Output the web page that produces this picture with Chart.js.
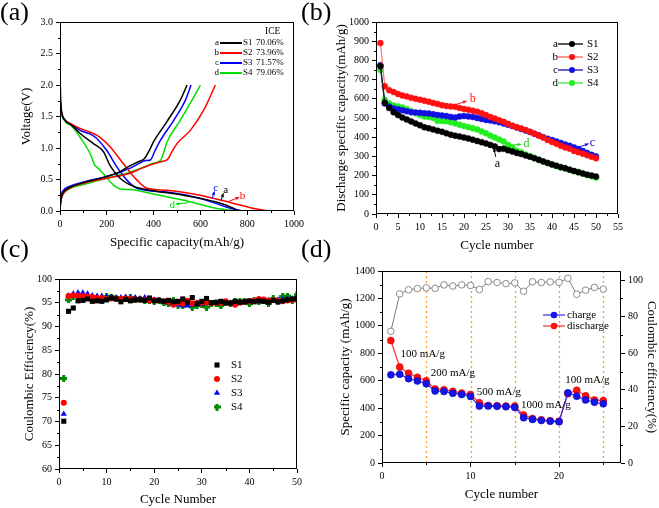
<!DOCTYPE html>
<html>
<head>
<meta charset="utf-8">
<script src="https://cdn.jsdelivr.net/npm/chart.js@4.4.0/dist/chart.umd.min.js"></script>
<style>
body { margin: 0; background: #fff; }
#fig { position: relative; width: 659px; height: 508px; overflow: hidden; }
canvas { position: absolute; }
.lab { position: absolute; font: 26px/26px "Liberation Serif", serif; color: #000; }
</style>
</head>
<body>
<div id="fig">
  <canvas id="ca" width="330" height="254" style="left:0;top:0"></canvas>
  <canvas id="cb" width="330" height="254" style="left:329px;top:0"></canvas>
  <canvas id="cc" width="330" height="254" style="left:0;top:254px"></canvas>
  <canvas id="cd" width="330" height="254" style="left:329px;top:254px"></canvas>
  <div class="lab" style="left:0;top:-1px">(a)</div>
  <div class="lab" style="left:301px;top:-1px">(b)</div>
  <div class="lab" style="left:0;top:236px">(c)</div>
  <div class="lab" style="left:301px;top:236px">(d)</div>
</div>
<script>
// (a) first charge/discharge profiles, [capacity mAh/g, voltage V]
var s1Discharge = [[0,2.2],[3,1.75],[8,1.55],[20,1.45],[50,1.36],[86,1.23],[143,1.07],[186,0.94],[214,0.72],[257,0.52],[314,0.39],[386,0.33],[529,0.25],[671,0.14],[743,0.04],[760,0]];
var s1Charge = [[0,0.05],[5,0.2],[15,0.3],[40,0.37],[100,0.45],[200,0.55],[260,0.63],[300,0.72],[340,0.79],[360,0.83],[380,0.95],[400,1.1],[457,1.42],[514,1.76],[543,2.0]];
var s2Discharge = [[0,1.8],[5,1.6],[20,1.45],[50,1.38],[86,1.31],[130,1.25],[171,1.17],[214,1.02],[271,0.75],[329,0.49],[371,0.36],[457,0.33],[600,0.25],[743,0.12],[829,0.04],[893,0]];
var s2Charge = [[0,0.05],[5,0.18],[15,0.28],[40,0.36],[100,0.44],[200,0.52],[300,0.6],[350,0.68],[400,0.75],[440,0.79],[460,0.82],[480,0.95],[500,1.07],[557,1.28],[614,1.6],[664,2.0]];
var s3Discharge = [[0,1.8],[5,1.6],[20,1.45],[50,1.37],[86,1.28],[130,1.22],[157,1.15],[200,0.96],[243,0.7],[286,0.49],[329,0.36],[457,0.3],[600,0.2],[714,0.06],[779,0]];
var s3Charge = [[0,0.08],[5,0.25],[15,0.33],[40,0.39],[100,0.46],[200,0.55],[260,0.62],[300,0.68],[340,0.76],[365,0.8],[386,0.81],[405,0.95],[429,1.12],[486,1.44],[536,1.76],[560,2.0]];
var s4Discharge = [[0,1.85],[5,1.6],[20,1.43],[50,1.35],[86,1.17],[129,0.91],[150,0.72],[157,0.7],[186,0.59],[229,0.41],[257,0.35],[300,0.34],[386,0.28],[529,0.17],[671,0.04],[757,0]];
var s4Charge = [[0,0.06],[5,0.2],[15,0.28],[40,0.35],[100,0.42],[200,0.52],[300,0.62],[360,0.7],[400,0.76],[429,0.8],[445,0.95],[457,1.09],[514,1.44],[564,1.76],[600,2.0]];
var sampleNames = ['S1', 'S2', 'S3', 'S4'];
var curveLetters = ['a', 'b', 'c', 'd'];
var iceValues = ['70.06%', '73.96%', '71.57%', '79.06%'];

// (b) discharge capacity vs cycle
var cycles50 = [1,2,3,4,5,6,7,8,9,10,11,12,13,14,15,16,17,18,19,20,21,22,23,24,25,26,27,28,29,30,31,32,33,34,35,36,37,38,39,40,41,42,43,44,45,46,47,48,49,50];
var s1Capacity = [770,580,552,530,515,502,492,482,472,462,452,446,440,434,428,420,413,408,403,398,393,387,380,374,367,360,352,338,340,332,325,318,312,305,298,290,282,274,266,258,251,244,238,231,224,218,211,205,200,195];
var s2Capacity = [890,665,645,635,625,617,612,605,600,595,590,585,578,573,567,562,560,558,552,547,543,538,532,525,515,505,497,488,480,470,460,452,445,437,428,418,408,398,385,375,366,355,347,340,328,322,314,306,298,290];
var s3Capacity = [775,575,560,550,545,540,535,530,528,527,525,523,520,515,513,510,505,503,508,510,508,505,500,495,490,487,483,478,472,465,458,450,443,435,427,418,410,400,392,385,378,370,362,355,347,338,328,318,308,300];
var s4Capacity = [750,595,575,565,560,555,545,535,525,515,508,505,500,485,485,483,478,472,465,458,452,446,440,430,420,408,398,388,378,360,345,330,320,310,300,292,283,274,266,258,250,243,237,230,223,217,210,203,197,190];

// (c) coulombic efficiency vs cycle
var s1CE = [70.06,93.2,93.9,95.4,95.5,95.8,95.3,95.4,95.3,95.6,96.0,95.8,95.2,95.7,95.4,95.6,95.7,95.5,96.0,95.4,95.5,95.3,95.5,95.2,95.3,95.8,95.1,96.1,94.8,95.3,95.9,95.0,95.1,95.3,95.0,94.9,95.3,95.1,95.2,95.4,95.2,95.4,95.3,95.1,95.5,95.2,95.4,95.6,95.8,95.9];
var s2CE = [73.96,96.4,96.6,96.5,96.4,96.3,96.2,96.0,96.0,95.8,95.9,95.9,95.8,95.9,95.8,95.7,95.7,95.6,95.5,95.6,95.5,95.3,95.2,94.6,95.0,94.8,95.4,94.9,95.0,95.0,95.1,94.9,95.0,95.0,95.3,94.9,94.6,95.0,95.2,95.3,95.4,95.8,95.7,95.5,95.6,95.4,95.3,95.5,95.6,95.9];
var s3CE = [71.57,96.5,96.9,97.1,97.1,96.9,96.5,96.4,96.4,96.2,96.2,96.1,96.1,96.2,96.0,96.1,95.9,96.1,95.8,95.6,95.5,95.2,95.0,94.8,94.6,94.4,94.4,94.6,94.8,94.7,94.9,94.9,95.0,95.0,94.9,95.0,95.0,95.0,95.1,95.2,95.3,95.3,95.4,95.5,95.4,95.6,95.7,95.8,95.9,96.0];
var s4CE = [79.06,95.6,96.3,96.5,96.4,96.3,96.0,95.8,95.6,96.3,96.2,95.8,95.6,96.0,96.1,95.6,95.7,95.4,95.4,95.3,95.4,95.0,94.8,95.5,94.5,94.5,95.2,94.1,94.4,94.6,94.1,94.9,94.9,94.4,95.1,94.9,95.3,95.3,95.3,94.8,95.4,95.3,95.4,94.9,95.8,95.3,96.3,96.4,95.4,96.7];

// (d) rate performance
var rateCycles = [1,2,3,4,5,6,7,8,9,10,11,12,13,14,15,16,17,18,19,20,21,22,23,24,25];
var chargeCap = [643,648,615,598,578,525,522,508,500,485,415,415,413,410,405,330,318,310,305,300,512,487,460,443,432];
var dischargeCap = [893,700,655,625,600,540,535,523,510,500,440,420,418,415,415,350,325,315,308,305,505,530,490,460,455];
var rateCE = [72,92.5,94.7,95.4,95.8,95.5,97.4,96.8,97.4,97.1,94.9,99.2,98.7,98.1,98.5,93.9,99.1,98.7,99.0,98.8,101,92.3,94.5,96.0,95.1];
var rateBoundaries = [5, 10, 15, 20, 25];
var rateLabels = ['100 mA/g', '200 mA/g', '500 mA/g', '1000 mA/g', '100 mA/g'];

var SERIF = '"Liberation Serif", "Times New Roman", serif';
Chart.defaults.font.family = SERIF;
Chart.defaults.color = '#000';
Chart.defaults.animation = false;

var colA = ['#000000', '#ff0000', '#0000ff', '#00e000'];
var colB = ['#000000', '#ff1010', '#1010e0', '#22ee22'];
var lineB = ['#202020', '#ff7070', '#3030c0', '#55f055'];

function xy(xs, ys) {
  return xs.map(function (x, i) { return { x: x, y: ys[i] }; });
}
function pairs(p) {
  return p.map(function (d) { return { x: d[0], y: d[1] }; });
}

function makeAxis(o) {
  return {
    type: 'linear', position: o.position, min: o.min, max: o.max,
    afterFit: function (s) { if (s.isHorizontal()) s.height = o.size; else s.width = o.size; },
    grid: { drawOnChartArea: false, drawTicks: true, tickLength: 4, color: '#000', lineWidth: 1 },
    border: { display: false },
    ticks: {
      stepSize: o.step, padding: 3, maxRotation: 0, autoSkip: false, includeBounds: false,
      font: { size: 10 }, color: '#000',
      callback: function (v) { return o.fmt ? o.fmt(v) : String(v); }
    },
    title: { display: true, text: o.title, font: { size: 13 }, color: '#000', padding: o.titlePad }
  };
}

function framePlugin(minor) {
  return {
    id: 'frame',
    afterDraw: function (chart) {
      var ctx = chart.ctx, a = chart.chartArea;
      ctx.save();
      ctx.strokeStyle = '#000';
      ctx.lineWidth = 1;
      ctx.strokeRect(Math.round(a.left) + 0.5, Math.round(a.top) + 0.5,
        Math.round(a.right - a.left) - 1, Math.round(a.bottom - a.top) - 1);
      Object.keys(minor).forEach(function (id) {
        var s = chart.scales[id];
        var majors = s.ticks.map(function (t) { return t.value; });
        var step = majors[1] - majors[0], n = minor[id];
        ctx.beginPath();
        for (var k = -n; k <= (majors.length) * n; k++) {
          if (k % n === 0) continue;
          var v = majors[0] + k * step / n;
          if (v < s.min - 1e-9 || v > s.max + 1e-9) continue;
          var p = Math.round(s.getPixelForValue(v)) + 0.5;
          if (s.isHorizontal()) { ctx.moveTo(p, s.top); ctx.lineTo(p, s.top + 2); }
          else if (s.position === 'left') { ctx.moveTo(s.right, p); ctx.lineTo(s.right - 2, p); }
          else { ctx.moveTo(s.left, p); ctx.lineTo(s.left + 2, p); }
        }
        ctx.stroke();
      });
      ctx.restore();
    }
  };
}

function arrow(ctx, x1, y1, x2, y2) {
  var ang = Math.atan2(y2 - y1, x2 - x1), h = 4;
  ctx.beginPath();
  ctx.moveTo(x1, y1); ctx.lineTo(x2, y2);
  ctx.stroke();
  ctx.beginPath();
  ctx.moveTo(x2, y2);
  ctx.lineTo(x2 - h * Math.cos(ang - 0.45), y2 - h * Math.sin(ang - 0.45));
  ctx.lineTo(x2 - h * Math.cos(ang + 0.45), y2 - h * Math.sin(ang + 0.45));
  ctx.closePath();
  ctx.fill();
}

// text notes and arrows placed in data coordinates
function notesPlugin(items, yId) {
  return {
    id: 'notes',
    afterDatasetsDraw: function (chart) {
      var ctx = chart.ctx, sx = chart.scales.x, sy = chart.scales[yId || 'y'];
      ctx.save();
      items.forEach(function (n) {
        ctx.fillStyle = n.color; ctx.strokeStyle = n.color; ctx.lineWidth = 1;
        ctx.font = (n.size || 11) + 'px ' + SERIF;
        ctx.textAlign = n.align || 'center'; ctx.textBaseline = 'middle';
        if (n.text) ctx.fillText(n.text, sx.getPixelForValue(n.x), sy.getPixelForValue(n.y));
        if (n.arrow) arrow(ctx, sx.getPixelForValue(n.arrow[0]), sy.getPixelForValue(n.arrow[1]),
          sx.getPixelForValue(n.arrow[2]), sy.getPixelForValue(n.arrow[3]));
      });
      ctx.restore();
    }
  };
}

// ---------------- (a)
var profiles = [s1Discharge, s2Discharge, s3Discharge, s4Discharge];
var charges = [s1Charge, s2Charge, s3Charge, s4Charge];
var dsA = [];
profiles.forEach(function (p, i) {
  [p, charges[i]].forEach(function (curve) {
    dsA.push({ data: pairs(curve), showLine: true, borderColor: colA[i], borderWidth: 1.5,
      pointRadius: 0, cubicInterpolationMode: 'monotone' });
  });
});
var legendA = {
  id: 'legendA',
  afterDraw: function (chart) {
    var ctx = chart.ctx;
    ctx.save();
    ctx.textBaseline = 'middle';
    ctx.fillStyle = '#000';
    ctx.font = '9.5px ' + SERIF;
    ctx.fillText('ICE', 265, 31);
    ctx.font = '9px ' + SERIF;
    sampleNames.forEach(function (name, i) {
      var y = 43 + i * 10;
      ctx.fillStyle = '#000';
      ctx.textAlign = 'right'; ctx.fillText(curveLetters[i], 219, y);
      ctx.strokeStyle = colA[i]; ctx.lineWidth = 2;
      ctx.beginPath(); ctx.moveTo(220, y); ctx.lineTo(242, y); ctx.stroke();
      ctx.textAlign = 'left';
      ctx.fillText(name, 243, y);
      ctx.fillText(iceValues[i], 256, y);
    });
    ctx.restore();
  }
};
new Chart(document.getElementById('ca'), {
  type: 'scatter',
  data: { datasets: dsA },
  options: {
    responsive: false,
    layout: { padding: { top: 22, right: 36, left: 0, bottom: 0 } },
    plugins: { legend: { display: false }, tooltip: { enabled: false } },
    scales: {
      x: makeAxis({ position: 'bottom', min: 0, max: 1000, step: 200, size: 43, title: 'Specific capacity(mAh/g)', titlePad: { top: 0, bottom: 4 } }),
      y: makeAxis({ position: 'left', min: 0, max: 3, step: 0.5, size: 60, title: 'Voltage(V)', titlePad: { top: 19, bottom: 0 }, fmt: function (v) { return v.toFixed(1); } })
    }
  },
  plugins: [framePlugin({ x: 2, y: 2 }), legendA, notesPlugin([
    { text: 'c', x: 665, y: 0.37, color: colA[2], arrow: [650, 0.2, 660, 0.31] },
    { text: 'a', x: 708, y: 0.33, color: colA[0], arrow: [688, 0.17, 698, 0.28] },
    { text: 'b', x: 780, y: 0.23, color: colA[1], arrow: [720, 0.15, 766, 0.22] },
    { text: 'd', x: 480, y: 0.1, color: colA[3], arrow: [548, 0.13, 495, 0.11] }
  ])]
});

// ---------------- (b)
var capSeries = [s1Capacity, s2Capacity, s3Capacity, s4Capacity];
var dsB = capSeries.map(function (vals, i) {
  return { data: xy(cycles50, vals), showLine: true, borderColor: lineB[i], borderWidth: 1.2,
    pointRadius: 3, pointBackgroundColor: colB[i], pointBorderColor: colB[i], pointBorderWidth: 0.5 };
});
var legendB = {
  id: 'legendB',
  afterDraw: function (chart) {
    var ctx = chart.ctx;
    ctx.save();
    ctx.textBaseline = 'middle';
    ctx.font = '11px ' + SERIF;
    var rows = [44, 57, 70, 83];
    sampleNames.forEach(function (name, i) {
      var y = rows[i];
      ctx.fillStyle = '#000';
      ctx.textAlign = 'right'; ctx.fillText(curveLetters[i], 229, y);
      ctx.strokeStyle = lineB[i]; ctx.lineWidth = 1.5;
      ctx.beginPath(); ctx.moveTo(229, y); ctx.lineTo(254, y); ctx.stroke();
      ctx.fillStyle = colB[i];
      ctx.beginPath(); ctx.arc(243, y, 3, 0, Math.PI * 2); ctx.fill();
      ctx.fillStyle = '#000'; ctx.textAlign = 'left';
      ctx.fillText(name, 258, y);
    });
    ctx.restore();
  }
};
new Chart(document.getElementById('cb'), {
  type: 'scatter',
  data: { datasets: dsB },
  options: {
    responsive: false,
    layout: { padding: { top: 22, right: 41, left: 0, bottom: 0 } },
    plugins: { legend: { display: false }, tooltip: { enabled: false } },
    scales: {
      x: makeAxis({ position: 'bottom', min: 0, max: 55, step: 5, size: 40, title: 'Cycle number', titlePad: { top: 0, bottom: 1 } }),
      y: makeAxis({ position: 'left', min: 0, max: 1000, step: 100, size: 47, title: 'Discharge specific capacity(mAh/g)', titlePad: { top: 5, bottom: 0 } })
    }
  },
  plugins: [framePlugin({ x: 2, y: 2 }), legendB, notesPlugin([
    { text: 'b', x: 22, y: 598, color: colB[1], size: 12, arrow: [17.5, 565, 20.6, 588] },
    { text: 'd', x: 34.2, y: 365, color: '#22cc22', size: 12, arrow: [30.5, 358, 33, 363] },
    { text: 'c', x: 49.2, y: 372, color: colB[2], size: 12, arrow: [46, 347, 48.3, 366] },
    { text: 'a', x: 27.6, y: 263, color: '#000', size: 12, arrow: [27.2, 298, 26.8, 343] }
  ])]
});

// ---------------- (c)
var plusMarker = document.createElement('canvas');
plusMarker.width = 7; plusMarker.height = 7;
(function () {
  var g = plusMarker.getContext('2d');
  g.fillStyle = '#008a00';
  g.fillRect(2, 0, 3, 7);
  g.fillRect(0, 2, 7, 3);
  g.beginPath(); g.arc(3.5, 3.5, 2.2, 0, Math.PI * 2); g.fill();
})();
var ceSeries = [s1CE, s2CE, s3CE, s4CE];
var ceStyles = ['rect', 'circle', 'triangle', plusMarker];
var ceColors = ['#000000', '#ff0000', '#0000ff', '#008a00'];
var ceRadius = [3.6, 3, 3.6, 3.5];
var dsC = ceSeries.map(function (vals, i) {
  return { data: xy(cycles50, vals), showLine: false, pointStyle: ceStyles[i], pointRadius: ceRadius[i],
    pointBackgroundColor: ceColors[i], pointBorderColor: ceColors[i], pointBorderWidth: 0 };
});
var legendC = {
  id: 'legendC',
  afterDraw: function (chart) {
    var ctx = chart.ctx;
    ctx.save();
    ctx.textBaseline = 'middle';
    ctx.font = '11px ' + SERIF;
    var rows = [111, 125, 139, 153];
    sampleNames.forEach(function (name, i) {
      ctx.fillStyle = ceColors[i]; ctx.strokeStyle = ceColors[i];
      Chart.helpers.drawPoint(ctx, { pointStyle: ceStyles[i], radius: ceRadius[i], rotation: 0, borderWidth: 0 }, 217, rows[i]);
      ctx.fillStyle = '#000'; ctx.textAlign = 'left';
      ctx.fillText(name, 231, rows[i]);
    });
    ctx.restore();
  }
};
new Chart(document.getElementById('cc'), {
  type: 'scatter',
  data: { datasets: dsC },
  options: {
    responsive: false,
    layout: { padding: { top: 25, right: 33, left: 0, bottom: 0 } },
    plugins: { legend: { display: false }, tooltip: { enabled: false } },
    scales: {
      x: makeAxis({ position: 'bottom', min: 0, max: 50, step: 10, size: 39, title: 'Cycle Number', titlePad: { top: 0, bottom: 1 } }),
      y: makeAxis({ position: 'left', min: 60, max: 100, step: 5, size: 59, title: 'Coulombic Efficiency(%)', titlePad: { top: 22, bottom: 0 } })
    }
  },
  plugins: [framePlugin({ x: 2, y: 2 }), legendC]
});

// ---------------- (d)
var dsD = [
  { data: xy(rateCycles, chargeCap), showLine: true, borderColor: '#2a2aff', borderWidth: 1.2, pointRadius: 3.5,
    pointBackgroundColor: '#1515e8', pointBorderColor: '#0000b0', pointBorderWidth: 0.5, yAxisID: 'y' },
  { data: xy(rateCycles, dischargeCap), showLine: true, borderColor: '#ff3030', borderWidth: 1.2, pointRadius: 3.5,
    pointBackgroundColor: '#ff1010', pointBorderColor: '#c00000', pointBorderWidth: 0.5, yAxisID: 'y' },
  { data: xy(rateCycles, rateCE), showLine: true, borderColor: '#7a7a7a', borderWidth: 1, pointRadius: 3.3,
    pointBackgroundColor: '#ffffff', pointBorderColor: '#8a8a8a', pointBorderWidth: 1, yAxisID: 'y1' }
];
var rateLines = {
  id: 'rateLines',
  beforeDatasetsDraw: function (chart) {
    var ctx = chart.ctx, a = chart.chartArea, sx = chart.scales.x;
    ctx.save();
    ctx.strokeStyle = '#ff9a2a'; ctx.lineWidth = 1.3; ctx.setLineDash([2, 3]);
    rateBoundaries.forEach(function (c) {
      var p = Math.round(sx.getPixelForValue(c)) + 0.5;
      ctx.beginPath(); ctx.moveTo(p, a.top); ctx.lineTo(p, a.bottom); ctx.stroke();
    });
    ctx.restore();
  }
};
var legendD = {
  id: 'legendD',
  afterDraw: function (chart) {
    var ctx = chart.ctx;
    ctx.save();
    ctx.textBaseline = 'middle';
    ctx.font = '11px ' + SERIF;
    [['charge', '#2a2aff', '#1515e8', 61], ['discharge', '#ff3030', '#ff1010', 72]].forEach(function (r) {
      ctx.strokeStyle = r[1]; ctx.lineWidth = 1.2;
      ctx.beginPath(); ctx.moveTo(214, r[3]); ctx.lineTo(236, r[3]); ctx.stroke();
      ctx.fillStyle = r[2];
      ctx.beginPath(); ctx.arc(225, r[3], 3.3, 0, Math.PI * 2); ctx.fill();
      ctx.fillStyle = '#000'; ctx.textAlign = 'left';
      ctx.fillText(r[0], 238, r[3]);
    });
    ctx.restore();
  }
};
var yD = makeAxis({ position: 'left', min: 0, max: 1400, step: 200, size: 53, title: 'Specific capacity (mAh/g)', titlePad: { top: 9, bottom: 0 } });
var y1D = makeAxis({ position: 'right', min: 0, max: 105, step: 20, size: 38, title: 'Coulombic efficiency(%)', titlePad: { top: 0, bottom: 0 } });
new Chart(document.getElementById('cd'), {
  type: 'scatter',
  data: { datasets: dsD },
  options: {
    responsive: false,
    layout: { padding: { top: 17, right: 0, left: 0, bottom: 0 } },
    plugins: { legend: { display: false }, tooltip: { enabled: false } },
    scales: {
      x: makeAxis({ position: 'bottom', min: 0, max: 27, step: 10, size: 45, title: 'Cycle number', titlePad: { top: 0, bottom: 6 } }),
      y: yD,
      y1: y1D
    }
  },
  plugins: [rateLines, framePlugin({ x: 2, y: 2, y1: 2 }), legendD, notesPlugin([
    { text: rateLabels[0], x: 2.1, y: 794, color: '#000', size: 11, align: 'left' },
    { text: rateLabels[1], x: 5.5, y: 656, color: '#000', size: 11, align: 'left' },
    { text: rateLabels[2], x: 10.7, y: 516, color: '#000', size: 11, align: 'left' },
    { text: rateLabels[3], x: 15.7, y: 419, color: '#000', size: 11, align: 'left' },
    { text: rateLabels[4], x: 20.7, y: 605, color: '#000', size: 11, align: 'left' }
  ])]
});
</script>
</body>
</html>
